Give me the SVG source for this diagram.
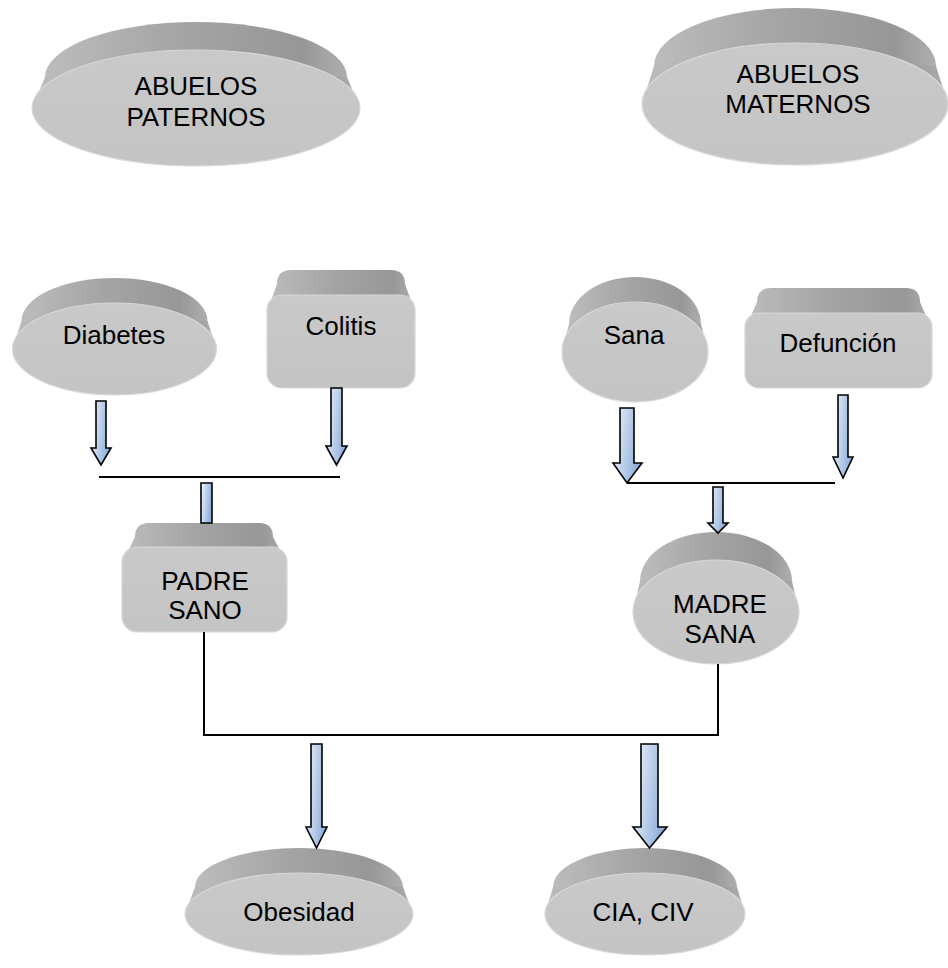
<svg xmlns="http://www.w3.org/2000/svg" width="948" height="968" viewBox="0 0 948 968">
<defs>
<linearGradient id="rim" x1="0" y1="0" x2="1" y2="0">
<stop offset="0" stop-color="#bcbcbc"/>
<stop offset="0.45" stop-color="#a4a4a4"/>
<stop offset="0.85" stop-color="#979797"/>
<stop offset="1" stop-color="#aeaeae"/>
</linearGradient>
<linearGradient id="face" x1="0" y1="0" x2="0" y2="1">
<stop offset="0" stop-color="#c9c9c9"/>
<stop offset="1" stop-color="#c4c4c4"/>
</linearGradient>
<linearGradient id="arr" x1="0" y1="0" x2="1" y2="0.3">
<stop offset="0" stop-color="#f2f6fb"/>
<stop offset="1" stop-color="#8eaedb"/>
</linearGradient>
</defs>
<style>
.rim{fill:url(#rim);}
.face{fill:url(#face);stroke:#d8d8d8;stroke-width:1.2;}
.t{font-family:"Liberation Sans",Arial,sans-serif;font-size:26px;fill:#000;text-anchor:middle;}
.arr{fill:url(#arr);stroke:#000;stroke-width:1.6;stroke-linejoin:miter;}
.ln{fill:none;stroke:#000;stroke-width:2;}
</style>

<g id="abuelos-paternos">
<ellipse class="rim" cx="196" cy="77" rx="151" ry="55"/>
<polygon class="rim" points="45,77 32,108 360,108 347,77"/>
<ellipse class="face" cx="196" cy="108" rx="164" ry="58"/>
<text class="t" x="196" y="95">ABUELOS</text>
<text class="t" x="196" y="126">PATERNOS</text>
</g>

<g id="abuelos-maternos">
<ellipse class="rim" cx="795" cy="66" rx="141" ry="58"/>
<polygon class="rim" points="654,66 642,104 948,104 936,66"/>
<ellipse class="face" cx="795" cy="104" rx="153" ry="61"/>
<text class="t" x="798" y="83">ABUELOS</text>
<text class="t" x="798" y="113">MATERNOS</text>
</g>

<g id="diabetes">
<ellipse class="rim" cx="114.5" cy="321" rx="93" ry="43"/>
<polygon class="rim" points="21.5,321 12.5,349 216.5,349 207.5,321"/>
<ellipse class="face" cx="114.5" cy="349" rx="102" ry="46"/>
<text class="t" x="114" y="344">Diabetes</text>
</g>

<g id="colitis">
<path class="rim" d="M267,312 L277,284 Q277,270 291,270 H391 Q405,270 405,284 L415,312 Z"/>
<rect class="face" x="267" y="295" width="148" height="93" rx="15"/>
<text class="t" x="341" y="335">Colitis</text>
</g>

<g id="sana">
<ellipse class="rim" cx="635" cy="324" rx="66" ry="47"/>
<polygon class="rim" points="569,324 562,352 708,352 701,324"/>
<ellipse class="face" cx="635" cy="352" rx="73" ry="50"/>
<text class="t" x="634" y="344">Sana</text>
</g>

<g id="defuncion">
<path class="rim" d="M745,330 L757,302 Q757,288 771,288 H906 Q920,288 920,302 L932,330 Z"/>
<rect class="face" x="745" y="313" width="187" height="75" rx="14"/>
<text class="t" x="838" y="352">Defunción</text>
</g>

<g id="padre-sano">
<path class="rim" d="M122,564 L135,537 Q135,523 149,523 H259 Q273,523 273,537 L287,564 Z"/>
<rect class="face" x="122" y="547" width="165" height="85" rx="15"/>
<text class="t" x="205" y="590">PADRE</text>
<text class="t" x="205" y="619">SANO</text>
</g>

<g id="madre-sana">
<ellipse class="rim" cx="716" cy="581" rx="76" ry="49"/>
<polygon class="rim" points="640,581 633,612 799,612 792,581"/>
<ellipse class="face" cx="716" cy="612" rx="83" ry="52"/>
<text class="t" x="720" y="613">MADRE</text>
<text class="t" x="720" y="643">SANA</text>
</g>

<g id="obesidad">
<ellipse class="rim" cx="299" cy="887" rx="104" ry="39"/>
<polygon class="rim" points="195,887 185,914 413,914 403,887"/>
<ellipse class="face" cx="299" cy="914" rx="114" ry="41"/>
<text class="t" x="299" y="921">Obesidad</text>
</g>

<g id="cia-civ">
<ellipse class="rim" cx="645" cy="887" rx="92" ry="39"/>
<polygon class="rim" points="553,887 545,914 745,914 737,887"/>
<ellipse class="face" cx="645" cy="914" rx="100" ry="41"/>
<text class="t" x="643" y="921">CIA, CIV</text>
</g>

<g id="connectors">
<line class="ln" x1="99" y1="477" x2="340" y2="477"/>
<line class="ln" x1="627" y1="483" x2="835" y2="483"/>
<polyline class="ln" points="204,632 204,735 718,735 718,664"/>
<path class="arr" d="M96,401 H106 V448 H111 L101,465 L91,448 H96 Z"/>
<path class="arr" d="M331,388 H342 V446 H347 L336.5,465 L326,446 H331 Z"/>
<path class="arr" d="M201,483 H212 V523 H201 Z"/>
<path class="arr" d="M620,408 H634 V463 H642 L627,483 L613,463 H620 Z"/>
<path class="arr" d="M838,395 H848 V457 H853 L843,478 L833,457 H838 Z"/>
<path class="arr" d="M713,487 H723 V523 H728 L718,533 L708,523 H713 Z"/>
<path class="arr" d="M311,744 H322 V827 H327 L316.5,848 L306,827 H311 Z"/>
<path class="arr" d="M641,744 H658 V827 H667 L649.5,848 L633,827 H641 Z"/>
</g>
</svg>
